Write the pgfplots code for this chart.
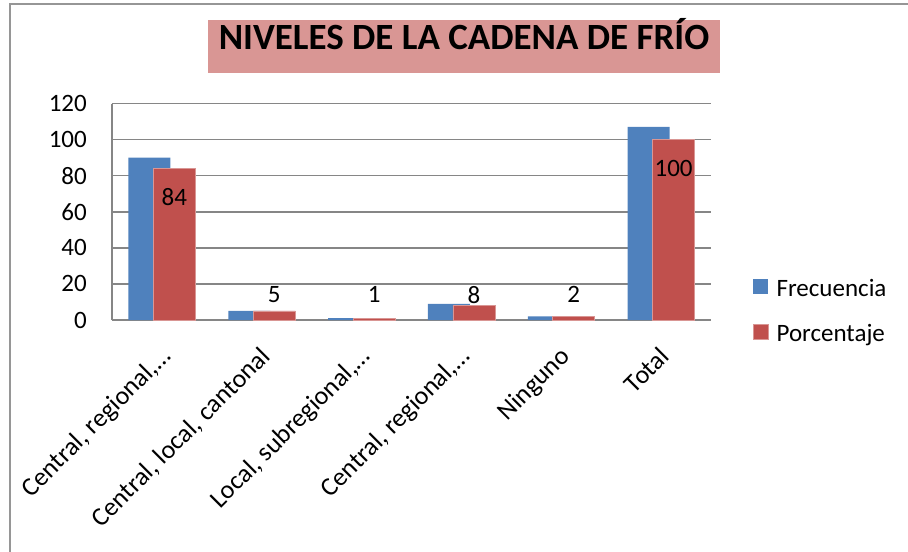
\documentclass[border=0pt]{standalone}
\usepackage{fontspec}
\setmainfont{Carlito}
\usepackage{pgfplots}
\pgfplotsset{compat=1.18}
\definecolor{frec}{RGB}{79,129,189}
\definecolor{porc}{RGB}{192,80,77}
\definecolor{porcedge}{RGB}{217,150,148}
\definecolor{titlepink}{RGB}{217,150,148}
\definecolor{axgray}{RGB}{134,134,134}
\definecolor{framegray}{RGB}{150,150,150}
\newcommand{\lbl}{\fontsize{25bp}{30bp}\selectfont}

\begin{document}
\begin{tikzpicture}
\useasboundingbox (-112bp,-232bp) rectangle (796bp,320bp);
% outer chart frame (only top and left edges fall inside the picture)
\draw[framegray, line width=1.2bp] (-102bp,-400bp) rectangle (1000bp,316bp);
\begin{axis}[
  name=ax, at={(0,0)}, anchor=south west,
  scale only axis, width=599bp, height=216.5bp,
  ymin=0, ymax=120, ytick={0,20,...,120},
  xmin=-0.5, xmax=5.5, xtick={0,1,2,3,4,5},
  xticklabels={{Central, regional,…},{Central, local, cantonal},
               {Local, subregional,…},{Central, regional,…},
               {Ninguno},{Total}},
  ybar, bar width=42bp,
  axis lines*=left,
  axis line style={-, draw=axgray, line width=1.5bp},
  ymajorgrids, grid style={draw=axgray, line width=1.5bp},
  major tick length=0pt,
  /pgf/number format/assume math mode=true,
  tick label style={font=\lbl, text=black},
  yticklabel style={anchor=east, inner sep=0pt, xshift=-25bp},
  xticklabel style={font=\fontsize{26bp}{30bp}\selectfont, inner sep=0pt,
                    xshift=-3bp, yshift=-25bp, rotate=45, anchor=north east},
  legend style={at={(axis description cs:1.0701,0.188)}, anchor=north west,
                draw=none, fill=none, inner sep=0pt, outer sep=0pt,
                font=\lbl, row sep=25bp,
                nodes={inner sep=0pt, text height=0.7em, text depth=0.25em},
                /tikz/every odd column/.append style={column sep=8bp}},
  legend cell align=left,
  legend image code/.code={\fill[#1] (0bp,0bp) rectangle (15bp,15bp);},
]
\addplot[fill=frec, draw=none, bar shift=-12.5bp] coordinates {
  (0,90) (1,5) (2,1) (3,9) (4,2) (5,107)
};
\addlegendentry{Frecuencia}
\addplot[fill=porc, draw=porcedge, line width=0.6bp, bar shift=12.5bp,
  nodes near coords,
  visualization depends on={y \as \yv},
  every node near coord/.append style={font=\lbl, text=black, anchor=center,
    inner sep=0pt, yshift={ifthenelse(\yv>50,-29,(14-\yv)*1.804)}},
] coordinates {
  (0,84) (1,5) (2,1) (3,8) (4,2) (5,100)
};
\addlegendentry{Porcentaje}
\end{axis}
% chart title in its shaded box
\node[fill=titlepink, minimum width=512bp, minimum height=53bp, inner sep=0pt,
      text height=0.63em, text depth=0pt,
      font=\bfseries\fontsize{37bp}{44bp}\selectfont]
  at (352bp,273.5bp) {NIVELES DE LA CADENA DE FRÍO};
\end{tikzpicture}
\end{document}
